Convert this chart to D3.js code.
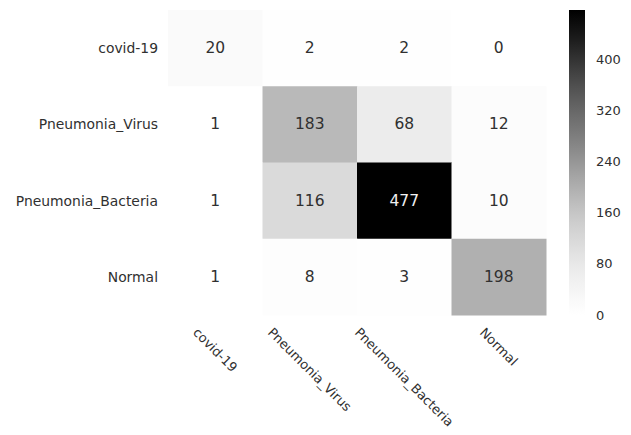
<!DOCTYPE html>
<html>
<head>
<meta charset="utf-8">
<script src="https://cdn.jsdelivr.net/npm/d3@7"></script>
<style>
  html, body { margin: 0; padding: 0; background: #ffffff; }
  svg { display: block; font-family: "DejaVu Sans", sans-serif; }
</style>
</head>
<body>
<svg id="chart" width="631" height="435"></svg>
<script>
// Confusion matrix: rows = true class, columns = predicted class
const classes = ["covid-19", "Pneumonia_Virus", "Pneumonia_Bacteria", "Normal"];
const rowCovid = [20, 2, 2, 0];
const rowVirus = [1, 183, 68, 12];
const rowBacteria = [1, 116, 477, 10];
const rowNormal = [1, 8, 3, 198];
const counts = [rowCovid, rowVirus, rowBacteria, rowNormal];
const colorbarTicks = [0, 80, 160, 240, 320, 400];

const svg = d3.select("#chart");

const x = d3.scaleBand().domain(classes).range([168, 546]);
const y = d3.scaleBand().domain(classes).range([10, 315]);
const vmax = d3.max(counts.flat());
const color = d3.scaleSequential(d3.interpolateGreys).domain([0, vmax]);

const cells = [];
counts.forEach((row, i) => row.forEach((v, j) => cells.push({ r: classes[i], c: classes[j], v })));

// Heatmap cells
svg.append("g")
  .selectAll("rect")
  .data(cells)
  .join("rect")
  .attr("x", d => x(d.c))
  .attr("y", d => y(d.r))
  .attr("width", x.bandwidth() + 0.5)
  .attr("height", y.bandwidth() + 0.5)
  .attr("fill", d => color(d.v));

// Cell annotations
svg.append("g")
  .selectAll("text")
  .data(cells)
  .join("text")
  .attr("x", d => x(d.c) + x.bandwidth() / 2)
  .attr("y", d => y(d.r) + y.bandwidth() / 2)
  .attr("text-anchor", "middle")
  .attr("dominant-baseline", "central")
  .attr("font-size", 15.5)
  .attr("fill", d => (d.v / vmax > 0.6 ? "#f0f0f0" : "#303030"))
  .text(d => d.v);

// Row labels
svg.append("g")
  .selectAll("text")
  .data(classes)
  .join("text")
  .attr("x", 158)
  .attr("y", d => y(d) + y.bandwidth() / 2)
  .attr("text-anchor", "end")
  .attr("dominant-baseline", "central")
  .attr("font-size", 13.9)
  .attr("fill", "#303030")
  .text(d => d);

// Column labels, rotated 45 degrees and centred under each column
const colTop = 325;
const fs = 13;
const colLabels = svg.append("g")
  .selectAll("text")
  .data(classes)
  .join("text")
  .attr("text-anchor", "middle")
  .attr("dominant-baseline", "central")
  .attr("font-size", fs)
  .attr("fill", "#303030")
  .text(d => d);
colLabels.each(function(d) {
  const len = this.getComputedTextLength();
  const half = (len + fs * 1.1) * Math.SQRT1_2 / 2;
  const cx = x(d) + x.bandwidth() / 2;
  d3.select(this).attr("transform", `translate(${cx},${colTop + half}) rotate(45)`);
});

// Colorbar
const cbX = 569, cbW = 16;
const cbY = d3.scaleLinear().domain([0, vmax]).range([315, 10]);
const grad = svg.append("defs").append("linearGradient")
  .attr("id", "cbGrad")
  .attr("x1", 0).attr("y1", 1).attr("x2", 0).attr("y2", 0);
d3.range(0, 1.0001, 0.05).forEach(t => {
  grad.append("stop").attr("offset", t).attr("stop-color", color(t * vmax));
});
svg.append("rect")
  .attr("x", cbX)
  .attr("y", cbY(vmax))
  .attr("width", cbW)
  .attr("height", cbY(0) - cbY(vmax))
  .attr("fill", "url(#cbGrad)");

svg.append("g")
  .selectAll("text")
  .data(colorbarTicks)
  .join("text")
  .attr("x", 596)
  .attr("y", d => cbY(d))
  .attr("dominant-baseline", "central")
  .attr("font-size", 13)
  .attr("fill", "#303030")
  .text(d => d);
</script>
</body>
</html>
